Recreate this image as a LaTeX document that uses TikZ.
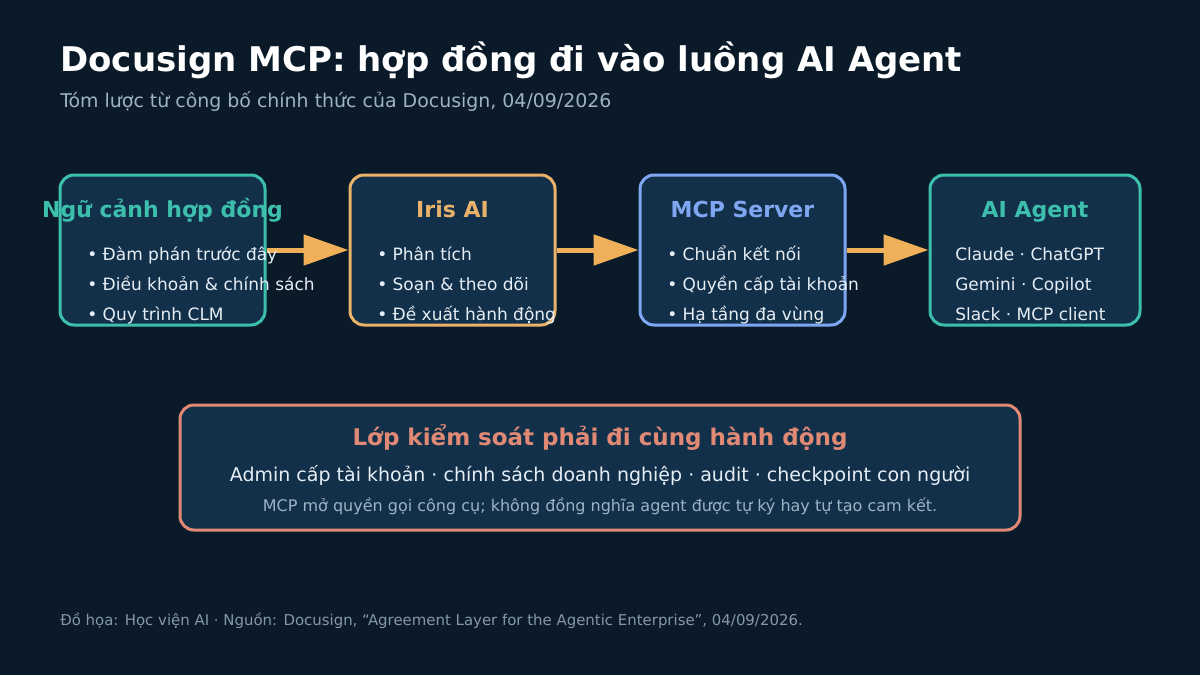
\documentclass[tikz,border=0pt]{standalone}
\usepackage{fontspec}
\setmainfont{DejaVu Sans}
\usetikzlibrary{arrows.meta}
\definecolor{bgc}{HTML}{0B1A28}
\definecolor{cardfill}{HTML}{13304A}
\definecolor{tealc}{HTML}{3DBFAE}
\definecolor{orangec}{HTML}{E8B26A}
\definecolor{bluec}{HTML}{7FA6F2}
\definecolor{salmonc}{HTML}{E08A76}
\definecolor{arrowc}{HTML}{F0B05A}
\definecolor{textc}{HTML}{E6EEF5}
\definecolor{subc}{HTML}{9DB2C4}
\definecolor{footc}{HTML}{8497A8}
\begin{document}
\begin{tikzpicture}[x=0.75pt, y=-0.75pt,
    card/.style={draw, fill=cardfill, rounded corners=10.5pt, line width=2.25pt,
      minimum width=153.75pt, minimum height=112.5pt, inner sep=0pt},
    head/.style={text=#1, font=\bfseries\fontsize{16.5}{19}\selectfont, anchor=base, inner sep=0pt},
    item/.style={text=textc, font=\fontsize{12.75}{15}\selectfont, anchor=base west, inner sep=0pt},
    flow/.style={draw=arrowc, line width=3.75pt, -{Triangle[length=33.75pt, width=22.5pt]}}]
  \path[use as bounding box, fill=bgc] (0,0) rectangle (1200,675);
  % title block
  \node[anchor=west, inner sep=0pt, text=white, font=\bfseries\fontsize{25.5}{30}\selectfont] (title) at (60,60) {Docusign MCP: hợp đồng đi vào luồng AI Agent};
  \node[anchor=base west, inner sep=0pt, text=subc, font=\fontsize{14.2}{17}\selectfont] (subtitle) at (60,107) {Tóm lược từ công bố chính thức của Docusign, 04/09/2026};
  % four stages
  \node[card, draw=tealc] (ctx) at (162.5,250) {};
  \node[card, draw=orangec] (iris) at (452.5,250) {};
  \node[card, draw=bluec] (mcp) at (742.5,250) {};
  \node[card, draw=tealc, minimum width=157.5pt] (agent) at (1035,250) {};
  \draw[flow] (ctx.east) -- (iris.west);
  \draw[flow] (iris.east) -- (mcp.west);
  \draw[flow] (mcp.east) -- (agent.west);
  \node[head=tealc] (ctxhead) at (162.5,217) {Ngữ cảnh hợp đồng};
  \node[item] (ctx1) at (87,260) {• Đàm phán trước đây};
  \node[item] (ctx2) at (87,290) {• Điều khoản \& chính sách};
  \node[item] (ctx3) at (87,320) {• Quy trình CLM};
  \node[head=orangec] (irishead) at (452.5,217) {Iris AI};
  \node[item] (iris1) at (377,260) {• Phân tích};
  \node[item] (iris2) at (377,290) {• Soạn \& theo dõi};
  \node[item] (iris3) at (377,320) {• Đề xuất hành động};
  \node[head=bluec] (mcphead) at (742.5,217) {MCP Server};
  \node[item] (mcp1) at (667,260) {• Chuẩn kết nối};
  \node[item] (mcp2) at (667,290) {• Quyền cấp tài khoản};
  \node[item] (mcp3) at (667,320) {• Hạ tầng đa vùng};
  \node[head=tealc] (agenthead) at (1035,217) {AI Agent};
  \node[item] (agent1) at (955,260) {Claude · ChatGPT};
  \node[item] (agent2) at (955,290) {Gemini · Copilot};
  \node[item] (agent3) at (955,320) {Slack · MCP client};
  % control layer
  \node[card, draw=salmonc, minimum width=630pt, minimum height=93.75pt] (guard) at (600,467.5) {};
  \node[head=salmonc, font=\bfseries\fontsize{17.25}{20}\selectfont] (guardhead) at (600,445) {Lớp kiểm soát phải đi cùng hành động};
  \node[anchor=base, text=textc, inner sep=0pt, font=\fontsize{14.25}{17}\selectfont] (guardline) at (600,481) {Admin cấp tài khoản · chính sách doanh nghiệp · audit · checkpoint con người};
  \node[anchor=base, text=subc, inner sep=0pt, font=\fontsize{12}{14}\selectfont] (guardnote) at (600,511) {MCP mở quyền gọi công cụ; không đồng nghĩa agent được tự ký hay tự tạo cam kết.};
  % footer
  \node[anchor=base west, inner sep=0pt, text=footc, font=\fontsize{11.2}{13}\selectfont] (footer) at (60,625) {Đồ họa: Học viện AI · Nguồn: Docusign, “Agreement Layer for the Agentic Enterprise”, 04/09/2026.};
\end{tikzpicture}
\end{document}
